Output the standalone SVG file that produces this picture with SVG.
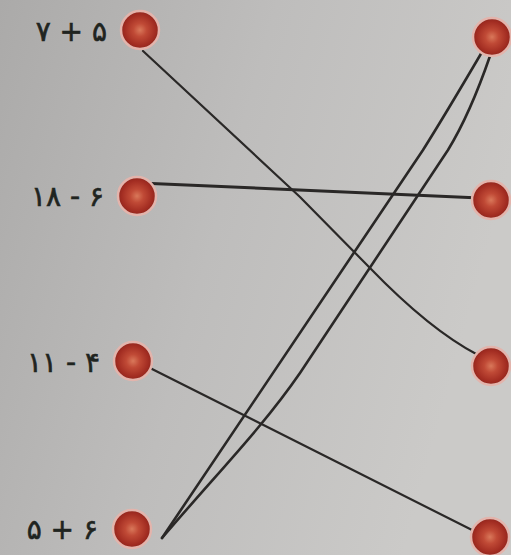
<svg xmlns="http://www.w3.org/2000/svg" width="511" height="555" viewBox="0 0 511 555">
<defs>
<linearGradient id="bg" x1="0" y1="0" x2="1" y2="0.3">
<stop offset="0" stop-color="#abaaa9"/>
<stop offset="0.5" stop-color="#bebdbc"/>
<stop offset="1" stop-color="#cbcac8"/>
</linearGradient>
<radialGradient id="dot" cx="0.5" cy="0.5" r="0.5">
<stop offset="0" stop-color="#d9785a"/>
<stop offset="0.35" stop-color="#c04a36"/>
<stop offset="0.8" stop-color="#a32d22"/>
<stop offset="1" stop-color="#8f261d"/>
</radialGradient>
<style>
.lbl{font-family:"DejaVu Sans",sans-serif;font-size:28px;fill:#1f2420;text-anchor:end;stroke:#1f2420;stroke-width:0.6;letter-spacing:3px}
.pin{fill:url(#dot);stroke:#e3b4ac;stroke-width:2.5}
.ln{fill:none;stroke:#2a2827;stroke-width:2.2;stroke-linecap:round;stroke-linejoin:round}
</style>
</defs>
<rect width="511" height="555" fill="url(#bg)"/>
<g id="connectors">
<path class="ln" d="M143,51 L300,197 L370,268 Q430,330 478,355"/>
<path class="ln" style="stroke-width:3" d="M140,183 L480,198"/>
<path class="ln" d="M150,368 L478,533"/>
<path class="ln" style="stroke-width:2.6" d="M162,538 L423,150 Q445,115 482,52"/>
<path class="ln" style="stroke-width:2.6" d="M162,538 C220,470 262,428 300,373 L448,150 Q470,114 490,56"/>
</g>
<g id="left1"><circle class="pin" cx="140" cy="30" r="19"/><text class="lbl" x="107" y="41">۷ + ۵</text></g>
<g id="left2"><circle class="pin" cx="137" cy="196" r="19"/><text class="lbl" x="104" y="206">۱۸ - ۶</text></g>
<g id="left3"><circle class="pin" cx="133" cy="361" r="19"/><text class="lbl" x="100" y="372">۱۱ - ۴</text></g>
<g id="left4"><circle class="pin" cx="132" cy="529" r="19"/><text class="lbl" x="98" y="539">۵ + ۶</text></g>
<g id="right1"><circle class="pin" cx="492" cy="37" r="19"/></g>
<g id="right2"><circle class="pin" cx="491" cy="200" r="19"/></g>
<g id="right3"><circle class="pin" cx="491" cy="366" r="19"/></g>
<g id="right4"><circle class="pin" cx="490" cy="537" r="19"/></g>
</svg>
